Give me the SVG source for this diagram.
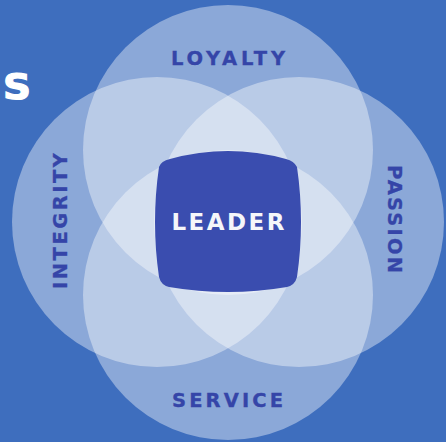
<svg xmlns="http://www.w3.org/2000/svg" width="446" height="442" viewBox="0 0 446 442">
  <style>
    .petal { fill: #ffffff; fill-opacity: 0.4; }
    .lbl { font-family: "DejaVu Sans", "Liberation Sans", sans-serif; font-weight: bold; font-size: 19.5px; fill: #3545a8; stroke: #3545a8; stroke-width: 0.3; text-anchor: middle; }
    .core { fill: #3a4daf; }
    .core-lbl { font-family: "DejaVu Sans", "Liberation Sans", sans-serif; font-weight: bold; font-size: 23px; fill: #f5f6fa; text-anchor: middle; }
    .title { font-family: "DejaVu Sans", "Liberation Sans", sans-serif; font-weight: bold; font-size: 35px; fill: #ffffff; stroke: #ffffff; stroke-width: 1.2; }
  </style>
  <rect x="0" y="0" width="446" height="442" fill="#3e6ebe"/>
  <text class="title" x="3" y="99" textLength="28" lengthAdjust="spacingAndGlyphs">S</text>

  <g id="loyalty">
    <circle class="petal" cx="228" cy="150" r="145"/>
    <text class="lbl" x="228" y="65" textLength="114" lengthAdjust="spacing">LOYALTY</text>
  </g>
  <g id="integrity">
    <circle class="petal" cx="157" cy="222" r="145"/>
    <text class="lbl" transform="translate(66.5,221) rotate(-90)" x="0" y="0" textLength="136" lengthAdjust="spacing">INTEGRITY</text>
  </g>
  <g id="passion">
    <circle class="petal" cx="299" cy="222" r="145"/>
    <text class="lbl" transform="translate(388,219) rotate(90)" x="0" y="0" textLength="108" lengthAdjust="spacing">PASSION</text>
  </g>
  <g id="service">
    <circle class="petal" cx="228" cy="295" r="145"/>
    <text class="lbl" x="227.5" y="407" textLength="111" lengthAdjust="spacing">SERVICE</text>
  </g>
  <g id="leader">
    <path class="core" d="M170,159 Q228,143 286,159 Q294,161 297,167 Q305,222 297,277 Q295,285 287,287 Q228,297 169,287 Q161,285 159,277 Q151,222 159,167 Q161,161 170,159 Z"/>
    <text class="core-lbl" x="228" y="230" textLength="113" lengthAdjust="spacing">LEADER</text>
  </g>
  <g id="connectors"></g>
</svg>
